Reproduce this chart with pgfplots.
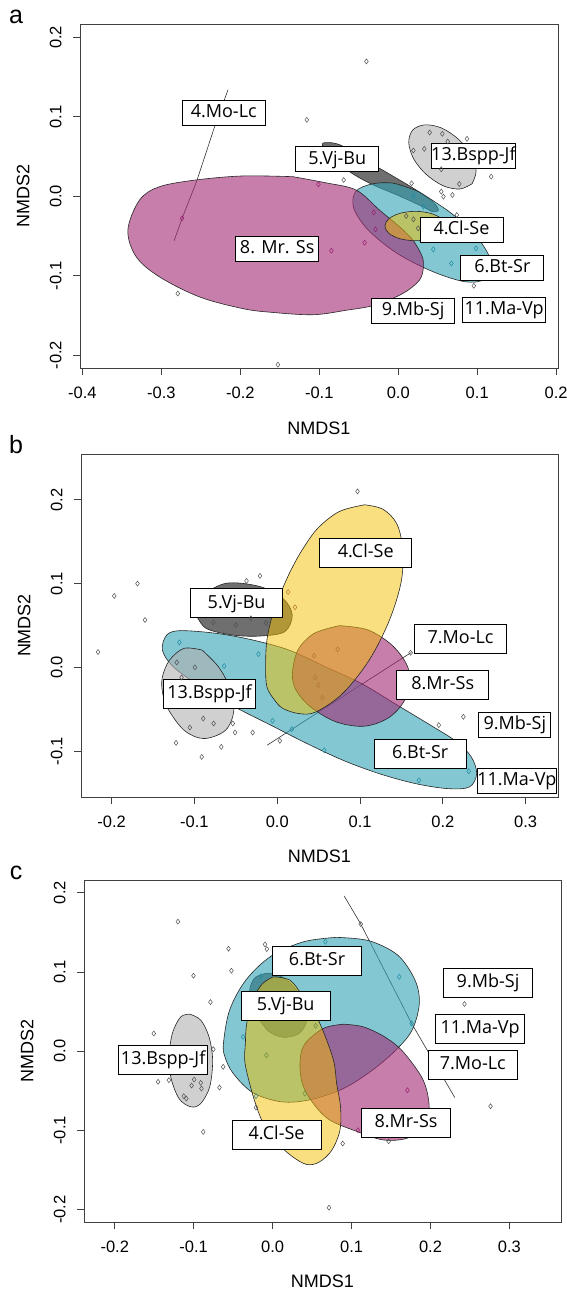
\documentclass[border=0pt]{standalone}
\usepackage{fontspec}
\setmainfont{Liberation Sans}
\newfontfamily\lab{Open Sans}
\usepackage{pgfplots}
\pgfplotsset{compat=1.18}

\definecolor{cmag}{RGB}{163,40,115}
\definecolor{ccyan}{RGB}{48,162,182}
\definecolor{cyel}{RGB}{243,191,0}
\definecolor{cdark}{RGB}{15,15,15}
\definecolor{clight}{RGB}{177,177,177}
\definecolor{mgray}{RGB}{80,80,80}
\definecolor{mmag}{RGB}{150,30,110}
\definecolor{mcyan}{RGB}{30,140,160}
\definecolor{myel}{RGB}{180,120,50}
\definecolor{mgrn}{RGB}{110,140,60}

\pgfplotsset{
  nmds/.style={
    scale only axis, anchor=south west,
    axis line style={black!75, line width=0.8pt},
    every tick/.style={black!75, line width=0.8pt},
    tick align=outside, major tick length=7pt,
    xtick pos=lower, ytick pos=left,
    tick label style={font=\fontsize{16.5}{16.5}\selectfont},
    xticklabel style={yshift=-8pt, /pgf/number format/fixed, /pgf/number format/fixed zerofill,
      /pgf/number format/precision=1, /pgf/number format/assume math mode=true},
    yticklabel style={xshift=-8pt, rotate=90, anchor=south, /pgf/number format/fixed, /pgf/number format/fixed zerofill,
      /pgf/number format/precision=1, /pgf/number format/assume math mode=true},
    xlabel={NMDS1}, ylabel={NMDS2},
    label style={font=\fontsize{18}{18}\selectfont},
    xlabel style={at={(axis description cs:0.5,-0.174)}, anchor=center},
    ylabel style={at={(axis description cs:-0.119,0.5)}, anchor=center},
  },
  ell/.style={draw=black!85, line width=0.6pt, fill=#1, fill opacity=0.6, smooth, tension=0.55},
  seg/.style={black!80, line width=0.6pt},
  pts/.style={only marks, mark=diamond, mark size=2.5pt, mark options={draw=#1, line width=0.5pt}},
}
\tikzset{
  lbl/.style={draw=black, line width=0.8pt, fill=white, font=\lab\fontsize{18}{18}\selectfont,
    inner sep=0pt, text height=13pt, text depth=3.5pt, align=center},
}

\begin{document}
\begin{tikzpicture}

% ---------------- panel a ----------------
\begin{axis}[nmds, at={(80pt,923pt)}, width=478pt, height=344pt,
  xmin=-0.403, xmax=0.2023, ymin=-0.216, ymax=0.2168,
  xtick={-0.4,-0.3,-0.2,-0.1,0,0.1,0.2}, ytick={-0.2,-0.1,0,0.1,0.2}]
\addplot[seg] coordinates {(-0.2156,0.134) (-0.2325,0.0878) (-0.2554,0.0185) (-0.2737,-0.0277) (-0.2838,-0.0559)};
\addplot[ell=cdark] coordinates {(-0.0238,0.0353) (0.0015,0.0206) (0.0227,0.0079) (0.0437,-0.0068) (0.051,-0.0173) (0.0437,-0.0194) (0.031,-0.0131) (0.0015,0.0004) (-0.0343,0.0155) (-0.0617,0.031) (-0.085,0.050) (-0.094,0.060) (-0.0956,0.0668) (-0.083,0.0672) (-0.070,0.0630) (-0.045,0.049) (-0.0238,0.0353)} -- cycle;
\addplot[ell=ccyan] coordinates {(0.0261,0.0059) (0.0673,-0.0214) (0.0993,-0.0508) (0.1167,-0.0803) (0.1108,-0.1034) (0.0856,-0.1076) (0.0444,-0.0950) (-0.0014,-0.0718) (-0.0380,-0.0424) (-0.0563,-0.0151) (-0.0540,0.0059) (-0.0334,0.0155) (-0.0059,0.0164) (0.0261,0.0059)} -- cycle;
\addplot[ell=clight] coordinates {(0.0935,0.0158) (0.0986,0.0316) (0.0924,0.0522) (0.0763,0.0718) (0.0547,0.0860) (0.0336,0.0899) (0.0184,0.0834) (0.0133,0.0676) (0.0196,0.0470) (0.0356,0.0274) (0.0572,0.0131) (0.0781,0.0092) (0.0935,0.0158)} -- cycle;
\addplot[ell=cmag] coordinates {(-0.1335,0.0247) (-0.0929,0.0172) (-0.0533,0.0079) (-0.0238,-0.0173) (0.0015,-0.0383) (0.0184,-0.055) (0.0300,-0.0750) (0.0319,-0.0888) (0.0268,-0.1055) (0.0057,-0.1223) (-0.030,-0.137) (-0.066,-0.1434) (-0.108,-0.1490) (-0.160,-0.1460) (-0.1968,-0.1413) (-0.2516,-0.1266) (-0.3023,-0.1014) (-0.3318,-0.0761) (-0.3424,-0.0425) (-0.3276,-0.0047) (-0.3023,0.0121) (-0.2558,0.0206) (-0.1968,0.0256) (-0.1335,0.0247)} -- cycle;
\addplot[ell=cyel, fill opacity=0.5] coordinates {(0.0599,-0.0374) (0.0548,-0.0281) (0.0407,-0.0214) (0.0215,-0.0189) (0.0023,-0.0214) (-0.0118,-0.0281) (-0.0169,-0.0374) (-0.0118,-0.0467) (0.0023,-0.0534) (0.0215,-0.0559) (0.0407,-0.0534) (0.0548,-0.0467) (0.0599,-0.0374)} -- cycle;
\addplot[pts=mgray] coordinates {(-0.0403,0.1697) (-0.1158,0.0962) (-0.0691,0.0206) (0.0398,0.0803) (0.0558,0.0786) (0.0627,0.0689) (0.0870,0.0723) (0.0330,0.0597) (0.0192,0.0576) (0.0545,0.0340) (0.0773,0.0155) (0.1176,0.0248) (0.0169,0.0164) (0.0545,0.0059) (0.0572,-0.0004) (0.0686,0.0017) (0.0741,-0.0235) (0.0957,-0.1126) (-0.2792,-0.1223) (-0.1524,-0.2118) (0.0101,-0.0248) (0.0192,-0.029) (0.0252,-0.0403)};
\addplot[pts=mmag] coordinates {(-0.1011,0.0151) (-0.0311,-0.0202) (-0.0288,-0.0416) (-0.0426,-0.0584) (-0.0847,-0.0685) (-0.2737,-0.0277)};
\addplot[pts=mcyan] coordinates {(0.0192,0.0004) (0.0320,-0.0130) (0.0444,-0.0668) (0.0673,-0.0845) (0.0984,-0.0655)};
\begin{scope}[every node/.style={lbl, minimum width=83pt, minimum height=25pt}]
\node at (axis cs:-0.221,0.1046) {4.Mo-Lc};
\node at (axis cs:-0.0773,0.0466) {5.Vj-Bu};
\node at (axis cs:0.0952,0.0508) {13.Bspp-Jf};
\node at (axis cs:0.0801,-0.0424) {4.Cl-Se};
\node at (axis cs:-0.1533,-0.066) {8. Mr. Ss};
\node at (axis cs:0.1318,-0.0899) {6.Bt-Sr};
\node at (axis cs:0.0188,-0.1441) {9.Mb-Sj};
\node at (axis cs:0.1341,-0.1433) {11.Ma-Vp};
\end{scope}
\end{axis}

% ---------------- panel b ----------------
\begin{axis}[nmds, at={(81pt,494pt)}, width=477pt, height=343pt,
  xmin=-0.237, xmax=0.339, ymin=-0.1546, ymax=0.2546,
  xtick={-0.2,-0.1,0,0.1,0.2,0.3}, ytick={-0.1,0,0.1,0.2}]
\addplot[seg] coordinates {(-0.0122,-0.0928) (0.1616,0.0177)};
\addplot[ell=cdark] coordinates {(-0.098,0.063) (-0.090,0.085) (-0.0615,0.1004) (-0.0214,0.0966) (0.0068,0.0824) (0.0181,0.0625) (0.0088,0.0425) (-0.0214,0.0374) (-0.0536,0.0386) (-0.0857,0.0464) (-0.098,0.063)} -- cycle;
\addplot[ell=ccyan] coordinates {(0.0576,0.0008) (0.1012,-0.019) (0.1449,-0.045) (0.1885,-0.071) (0.2168,-0.0888) (0.2343,-0.1068) (0.2408,-0.1267) (0.2321,-0.1426) (0.2059,-0.1446) (0.1667,-0.1386) (0.1230,-0.1267) (0.0794,-0.1108) (0.0358,-0.0908) (-0.0079,-0.0689) (-0.0515,-0.0470) (-0.0951,-0.0211) (-0.1257,0.0008) (-0.1387,0.0207) (-0.1335,0.0386) (-0.1169,0.0438) (-0.0733,0.0406) (-0.0297,0.0327) (0.0140,0.0207) (0.0576,0.0008)} -- cycle;
\addplot[ell=clight] coordinates {(-0.0908,0.0207) (-0.0711,0.0008) (-0.0580,-0.0231) (-0.0524,-0.0510) (-0.0624,-0.0749) (-0.0886,-0.0849) (-0.1126,-0.0749) (-0.1322,-0.0490) (-0.1387,-0.0291) (-0.1387,-0.0112) (-0.1300,0.0088) (-0.1126,0.0227) (-0.0908,0.0207)} -- cycle;
\addplot[ell=cmag] coordinates {(0.0750,0.0498) (0.1099,0.0446) (0.1405,0.0247) (0.1588,-0.0032) (0.1558,-0.0351) (0.1361,-0.0590) (0.1056,-0.0701) (0.0707,-0.0649) (0.0401,-0.0470) (0.0227,-0.0271) (0.0183,-0.0072) (0.0249,0.0207) (0.0445,0.0406) (0.0750,0.0498)} -- cycle;
\addplot[ell=cyel, fill opacity=0.5] coordinates {(0.1056,0.194) (0.1274,0.1888) (0.1440,0.172) (0.1510,0.144) (0.1500,0.104) (0.1355,0.0565) (0.111,0.0087) (0.0791,-0.031) (0.047,-0.053) (0.0269,-0.0552) (0.0068,-0.049) (-0.0040,-0.038) (-0.0125,-0.0232) (-0.0141,0.0007) (-0.0125,0.0326) (-0.0053,0.0645) (0.0048,0.0903) (0.0160,0.115) (0.0300,0.140) (0.0489,0.166) (0.075,0.186) (0.1056,0.194)} -- cycle;
\addplot[pts=mgray] coordinates {(-0.2164,0.0183) (-0.1968,0.0853) (-0.1688,0.1) (-0.1597,0.0566) (-0.0371,0.1032) (-0.0209,0.1092) (0.0969,0.21) (-0.0772,0.0538) (-0.0502,0.0506) (-0.0318,0.0586) (-0.0135,0.053) (-0.1213,0.006) (-0.0995,0.0) (-0.1156,-0.012) (0.161,0.0175) (0.0031,-0.0876) (0.1950,-0.0689) (0.2247,-0.0590) (-0.0537,-0.0669) (-0.0510,-0.0777) (-0.0297,-0.0777) (-0.0676,-0.0948) (-0.0894,-0.0610) (-0.0768,-0.0669) (-0.1056,-0.0717) (-0.1222,-0.0900) (-0.0912,-0.1068)};
\addplot[pts=myel] coordinates {(0.0131,0.090) (0.0214,0.0717) (0.0445,0.0139) (0.0729,0.0215) (0.0458,-0.012) (0.0497,-0.0211) (0.0545,-0.0363)};
\addplot[pts=mcyan] coordinates {(-0.1182,0.0299) (-0.0227,0.0159) (-0.0641,0.0016) (-0.0057,-0.0637) (0.0175,-0.0737) (0.0567,-0.0988) (0.1710,-0.1347) (0.2312,-0.1239)};
\begin{scope}[every node/.style={lbl, minimum width=92pt, minimum height=29pt}]
\node at (axis cs:0.1068,0.1366) {4.Cl-Se};
\node at (axis cs:-0.0491,0.0765) {5.Vj-Bu};
\node at (axis cs:0.2213,0.034) {7.Mo-Lc};
\node at (axis cs:0.1998,-0.0208) {8.Mr-Ss};
\node at (axis cs:-0.0817,-0.0311) {13.Bspp-Jf};
\node at (axis cs:0.1726,-0.1033) {6.Bt-Sr};
\node[minimum width=72pt, minimum height=25pt] at (axis cs:0.2869,-0.068) {9.Mb-Sj};
\node[minimum width=75pt, minimum height=25pt] at (axis cs:0.2893,-0.1349) {11.Ma-Vp};
\end{scope}
\end{axis}

% ---------------- panel c ----------------
\begin{axis}[nmds, at={(84pt,69pt)}, width=477pt, height=342pt,
  xmin=-0.239, xmax=0.3654, ymin=-0.2156, ymax=0.216,
  xtick={-0.2,-0.1,0,0.1,0.2,0.3}, ytick={-0.2,-0.1,0,0.1,0.2}]
\addplot[seg] coordinates {(0.0907,0.1958) (0.1117,0.1604) (0.1761,0.035) (0.2308,-0.0585)};
\addplot[ell=cdark] coordinates {(-0.0075,0.0985) (0.010,0.095) (0.028,0.080) (0.040,0.060) (0.0432,0.038) (0.033,0.022) (0.0135,0.0175) (-0.005,0.025) (-0.020,0.045) (-0.028,0.065) (-0.0286,0.080) (-0.022,0.093) (-0.0075,0.0985)} -- cycle;
\addplot[ell=ccyan] coordinates {(0.0806,0.1436) (0.1218,0.1394) (0.1584,0.1213) (0.1804,0.0897) (0.1859,0.0602) (0.1767,0.0265) (0.1561,0.0013) (0.1264,-0.0240) (0.0897,-0.0472) (0.0485,-0.0611) (0.0119,-0.0640) (-0.0247,-0.0526) (-0.0499,-0.0282) (-0.0604,-0.0072) (-0.0623,0.0097) (-0.0545,0.0518) (-0.0339,0.0897) (-0.0018,0.1200) (0.0394,0.1381) (0.0806,0.1436)} -- cycle;
\addplot[ell=clight] coordinates {(-0.1049,0.0467) (-0.0911,0.0392) (-0.0806,0.0181) (-0.0760,-0.0114) (-0.0797,-0.0451) (-0.0911,-0.0661) (-0.1035,-0.0703) (-0.1186,-0.0598) (-0.1291,-0.0324) (-0.1310,-0.0029) (-0.1264,0.0244) (-0.1163,0.0434) (-0.1049,0.0467)} -- cycle;
\addplot[ell=cmag] coordinates {(0.090,0.034) (0.1148,0.0307) (0.1420,0.018) (0.1654,-0.0009) (0.1908,-0.0366) (0.1984,-0.0703) (0.193,-0.095) (0.170,-0.110) (0.140,-0.112) (0.1085,-0.1019) (0.0727,-0.0871) (0.0515,-0.066) (0.038,-0.042) (0.0347,-0.0155) (0.040,0.008) (0.0642,0.0287) (0.090,0.034)} -- cycle;
\addplot[ell=cyel, fill opacity=0.5] coordinates {(0.0009,0.0938) (0.022,0.0895) (0.0389,0.0686) (0.055,0.045) (0.0685,0.0139) (0.0780,-0.015) (0.0811,-0.0408) (0.0860,-0.070) (0.0853,-0.0998) (0.075,-0.125) (0.0590,-0.140) (0.0432,-0.1430) (0.025,-0.133) (0.005,-0.115) (-0.0118,-0.0913) (-0.0244,-0.0577) (-0.0349,-0.0155) (-0.0345,0.010) (-0.0328,0.035) (-0.025,0.065) (-0.013,0.085) (0.0009,0.0938)} -- cycle;
\addplot[pts=mgray] coordinates {(-0.12,0.1634) (-0.1003,0.0952) (-0.0559,0.1293) (-0.0522,0.1015) (-0.0096,0.1347) (-0.0073,0.1288) (-0.0788,0.0619) (-0.1506,0.0223) (-0.0751,0.0025) (-0.0627,-0.0198) (-0.1451,-0.0387) (-0.1314,-0.0366) (-0.0994,-0.0358) (-0.1026,-0.0434) (-0.0911,-0.04) (-0.0902,-0.0472) (-0.1126,-0.0568) (-0.1094,-0.0598) (-0.0673,-0.0459) (-0.0879,-0.1019) (-0.0211,-0.0712) (0.0888,-0.1166) (0.147,-0.1137) (0.2431,0.0594) (0.2761,-0.0695) (0.0714,-0.1975) (0.1117,0.1604)};
\addplot[pts=mcyan] coordinates {(0.0668,0.1381) (-0.0147,0.0947) (-0.0375,0.0181) (0.1604,0.0938) (0.1761,0.035) (-0.0211,-0.0568)};
\addplot[pts=mgrn] coordinates {(0.0545,0.032) (-0.0078,-0.0051) (0.0408,-0.0535)};
\addplot[pts=mmag] coordinates {(0.1081,-0.0998) (0.1708,-0.0493)};
\begin{scope}[every node/.style={lbl, minimum width=89pt, minimum height=29pt}]
\node at (axis cs:0.0563,0.1145) {6.Bt-Sr};
\node at (axis cs:0.2729,0.0863) {9.Mb-Sj};
\node at (axis cs:0.0165,0.0568) {5.Vj-Bu};
\node at (axis cs:0.2628,0.0278) {11.Ma-Vp};
\node at (axis cs:0.2537,-0.0177) {7.Mo-Lc};
\node at (axis cs:-0.1387,-0.0105) {13.Bspp-Jf};
\node at (axis cs:0.005,-0.1061) {4.Cl-Se};
\node at (axis cs:0.169,-0.0905) {8.Mr-Ss};
\end{scope}
\end{axis}

\begin{scope}[every node/.style={font=\fontsize{25}{25}\selectfont, inner sep=0pt}]
\node at (16pt,1274pt) {a};
\node at (16pt,846pt) {b};
\node at (16pt,418pt) {c};
\end{scope}

\pgfresetboundingbox
\useasboundingbox (0,0) rectangle (567pt,1291pt);
\end{tikzpicture}
\end{document}
